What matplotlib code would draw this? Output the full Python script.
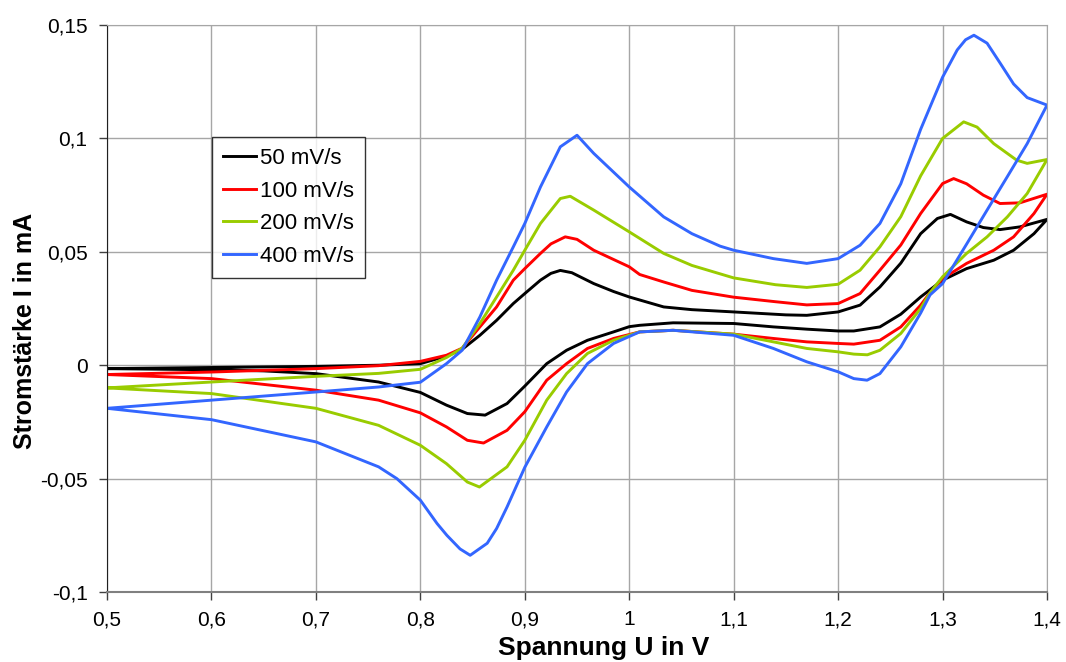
#!/usr/bin/env python
# Cyclovoltammogramm bei vier Vorschubgeschwindigkeiten
import matplotlib
matplotlib.use('Agg')
import matplotlib.pyplot as plt
from matplotlib.ticker import FuncFormatter

labels = ['50 mV/s', '100 mV/s', '200 mV/s', '400 mV/s']
colors = ['#000000', '#ff0000', '#99cc00', '#3366ff']

# Hinlauf (0,5 V -> 1,4 V) und Ruecklauf (1,4 V -> 0,5 V), Werte aus dem Bild
u_50_hin = [0.50, 0.60, 0.70, 0.76, 0.80, 0.825, 0.84, 0.857, 0.873, 0.889, 0.90, 0.915,
            0.925, 0.934, 0.945, 0.966, 0.985, 1.00, 1.033, 1.06, 1.10, 1.15, 1.17, 1.20,
            1.221, 1.24, 1.26, 1.279, 1.295, 1.3075, 1.323, 1.339, 1.355, 1.374, 1.40]
i_50_hin = [-0.0015, -0.0010, -0.0005, 0.0000, 0.0007, 0.0040, 0.0070, 0.0132, 0.0198, 0.0272,
            0.0316, 0.0375, 0.0405, 0.0418, 0.0408, 0.0360, 0.0325, 0.0301, 0.0257, 0.0245,
            0.0235, 0.0222, 0.0220, 0.0235, 0.0265, 0.0345, 0.0450, 0.0580, 0.0647, 0.0665,
            0.0632, 0.0607, 0.0598, 0.0610, 0.0643]
u_50_rueck = [1.40, 1.3875, 1.368, 1.349, 1.323, 1.30, 1.279, 1.26, 1.24, 1.215, 1.20, 1.17,
              1.138, 1.10, 1.042, 1.01, 1.00, 0.985, 0.96, 0.94, 0.921, 0.90, 0.883, 0.862,
              0.845, 0.825, 0.80, 0.76, 0.70, 0.65, 0.60, 0.50]
i_50_rueck = [0.0643, 0.0580, 0.0507, 0.0463, 0.0426, 0.0375, 0.0301, 0.0225, 0.0169, 0.0151,
              0.0151, 0.0159, 0.0169, 0.0184, 0.0187, 0.0176, 0.0170, 0.0147, 0.0110, 0.0066,
              0.0007, -0.0092, -0.0169, -0.0220, -0.0213, -0.0176, -0.0120, -0.0074, -0.0037,
              -0.0025, -0.0020, -0.0015]

u_100_hin = [0.50, 0.60, 0.70, 0.76, 0.80, 0.825, 0.84, 0.857, 0.873, 0.889, 0.90, 0.915,
             0.925, 0.9387, 0.95, 0.966, 1.00, 1.01, 1.033, 1.06, 1.10, 1.14, 1.17, 1.20,
             1.221, 1.24, 1.26, 1.279, 1.30, 1.3106, 1.323, 1.339, 1.355, 1.374, 1.40]
i_100_hin = [-0.0041, -0.0030, -0.0015, -0.0002, 0.0017, 0.0044, 0.0075, 0.0169, 0.0257, 0.0375,
             0.0426, 0.0493, 0.0535, 0.0566, 0.0555, 0.0507, 0.0434, 0.0400, 0.0367, 0.0330,
             0.0300, 0.0280, 0.0266, 0.0272, 0.0316, 0.0419, 0.0530, 0.0669, 0.0801, 0.0823,
             0.0800, 0.0750, 0.0713, 0.0716, 0.0754]
u_100_rueck = [1.40, 1.3875, 1.368, 1.349, 1.323, 1.30, 1.288, 1.279, 1.26, 1.24, 1.215, 1.20,
               1.17, 1.138, 1.10, 1.042, 1.01, 0.985, 0.96, 0.94, 0.921, 0.90, 0.883, 0.8605,
               0.845, 0.825, 0.80, 0.76, 0.70, 0.60, 0.50]
i_100_rueck = [0.0754, 0.0669, 0.0566, 0.0507, 0.0449, 0.0382, 0.0320, 0.0265, 0.0169, 0.0110,
               0.0093, 0.0096, 0.0103, 0.0118, 0.0137, 0.0154, 0.0147, 0.0118, 0.0074, 0.0007,
               -0.0066, -0.0205, -0.0287, -0.0343, -0.0331, -0.0272, -0.0210, -0.0154, -0.0110,
               -0.0059, -0.0041]

u_200_hin = [0.50, 0.60, 0.70, 0.76, 0.80, 0.825, 0.84, 0.857, 0.873, 0.889, 0.90, 0.915,
             0.934, 0.9435, 0.966, 1.00, 1.033, 1.06, 1.10, 1.14, 1.17, 1.20, 1.221, 1.24,
             1.26, 1.279, 1.30, 1.3202, 1.333, 1.349, 1.371, 1.381, 1.40]
i_200_hin = [-0.0100, -0.0074, -0.0049, -0.0036, -0.0018, 0.0034, 0.0075, 0.0184, 0.0301, 0.0419,
             0.0507, 0.0625, 0.0735, 0.0745, 0.0684, 0.0588, 0.0493, 0.0440, 0.0385, 0.0355,
             0.0343, 0.0357, 0.0419, 0.0522, 0.0655, 0.0835, 0.1000, 0.1073, 0.1050, 0.0977,
             0.0904, 0.0890, 0.0907]
u_200_rueck = [1.40, 1.381, 1.362, 1.3426, 1.323, 1.30, 1.288, 1.279, 1.26, 1.24, 1.228, 1.215,
               1.20, 1.17, 1.138, 1.10, 1.042, 1.01, 0.985, 0.96, 0.94, 0.921, 0.90, 0.883,
               0.8566, 0.845, 0.825, 0.80, 0.76, 0.70, 0.60, 0.50]
i_200_rueck = [0.0907, 0.0757, 0.0654, 0.0566, 0.0493, 0.0390, 0.0320, 0.0250, 0.0140, 0.0066,
               0.0046, 0.0049, 0.0059, 0.0074, 0.0103, 0.0137, 0.0154, 0.0147, 0.0110, 0.0052,
               -0.0037, -0.0154, -0.0331, -0.0448, -0.0537, -0.0515, -0.0434, -0.0353, -0.0265,
               -0.0190, -0.0125, -0.0100]

u_400_hin = [0.50, 0.60, 0.70, 0.76, 0.80, 0.825, 0.84, 0.857, 0.873, 0.889, 0.90, 0.915,
             0.934, 0.950, 0.966, 1.00, 1.033, 1.06, 1.087, 1.10, 1.138, 1.17, 1.20, 1.221,
             1.24, 1.26, 1.279, 1.30, 1.314, 1.322, 1.33, 1.3426, 1.3554, 1.368, 1.381, 1.40]
i_400_hin = [-0.0190, -0.0154, -0.0118, -0.0096, -0.0075, 0.0007, 0.0066, 0.0213, 0.0375, 0.0522,
             0.0625, 0.0786, 0.0963, 0.1014, 0.0934, 0.0786, 0.0654, 0.0580, 0.0525, 0.0507,
             0.0470, 0.0449, 0.0470, 0.0529, 0.0625, 0.0800, 0.1040, 0.1270, 0.1390, 0.1435,
             0.1455, 0.1420, 0.1330, 0.1240, 0.1180, 0.1147]
u_400_rueck = [1.40, 1.381, 1.3618, 1.3426, 1.3234, 1.30, 1.288, 1.279, 1.26, 1.24, 1.2277,
               1.215, 1.20, 1.17, 1.138, 1.10, 1.042, 1.01, 0.985, 0.96, 0.94, 0.921, 0.90,
               0.883, 0.873, 0.864, 0.8477, 0.838, 0.8254, 0.816, 0.80, 0.7775, 0.76, 0.70,
               0.60, 0.50]
i_400_rueck = [0.1147, 0.0977, 0.0830, 0.0684, 0.0537, 0.0360, 0.0310, 0.0230, 0.0081, -0.0037,
               -0.0066, -0.0059, -0.0029, 0.0015, 0.0074, 0.0132, 0.0154, 0.0147, 0.0096, 0.0007,
               -0.0118, -0.0272, -0.0450, -0.0625, -0.0720, -0.0785, -0.0838, -0.0810, -0.0750,
               -0.0698, -0.0595, -0.0500, -0.0448, -0.0338, -0.0240, -0.0190]

kurven = [
    (u_50_hin + u_50_rueck, i_50_hin + i_50_rueck),
    (u_100_hin + u_100_rueck, i_100_hin + i_100_rueck),
    (u_200_hin + u_200_rueck, i_200_hin + i_200_rueck),
    (u_400_hin + u_400_rueck, i_400_hin + i_400_rueck),
]

x_ticks = [0.5, 0.6, 0.7, 0.8, 0.9, 1.0, 1.1, 1.2, 1.3, 1.4]
y_ticks = [-0.1, -0.05, 0, 0.05, 0.1, 0.15]

plt.rcParams['font.family'] = ['Liberation Sans', 'DejaVu Sans']

fig = plt.figure(figsize=(10.66, 6.62), dpi=100)
ax = fig.add_axes([0.1004, 0.1057, 0.8818, 0.8565])

for (u, i), lab, col in zip(kurven, labels, colors):
    ax.plot(u, i, color=col, lw=2.1, label=lab, solid_joinstyle='round')

ax.set_xlim(0.5, 1.4)
ax.set_ylim(-0.1, 0.15)
ax.set_xticks(x_ticks)
ax.set_yticks(y_ticks)


def komma(v, pos):
    s = ('%.2f' % v).rstrip('0').rstrip('.')
    if s == '-0':
        s = '0'
    return s.replace('.', ',')


ax.xaxis.set_major_formatter(FuncFormatter(komma))
ax.yaxis.set_major_formatter(FuncFormatter(komma))
ax.tick_params(labelsize=15, direction='out', length=6, width=1, colors='#404040',
               labelcolor='black')
ax.tick_params(axis='x', pad=7)
ax.tick_params(axis='y', pad=8)

ax.grid(True, color='#a6a6a6', lw=1)
ax.set_axisbelow(True)
ax.spines['left'].set_color('#202020')
ax.spines['bottom'].set_color('#808080')
ax.spines['bottom'].set_linewidth(1.5)
ax.spines['top'].set_color('#a6a6a6')
ax.spines['right'].set_color('#a6a6a6')

ax.set_xlabel('Spannung U in V', fontsize=19, fontweight='bold')
ax.xaxis.set_label_coords(0.5288, -0.078)
ax.set_ylabel('Stromstärke I in mA', fontsize=18, fontweight='bold')
ax.yaxis.set_label_coords(-0.075, 0.46)

leg = ax.legend(loc='upper left', bbox_to_anchor=(0.1117, 0.8025), fontsize=16,
                frameon=True, fancybox=False, handlelength=1.5, handletextpad=0.15,
                borderpad=0.5, labelspacing=0.52, borderaxespad=0)
leg.get_frame().set_edgecolor('black')
leg.get_frame().set_linewidth(1.0)

fig.savefig('out.png', dpi=100)
